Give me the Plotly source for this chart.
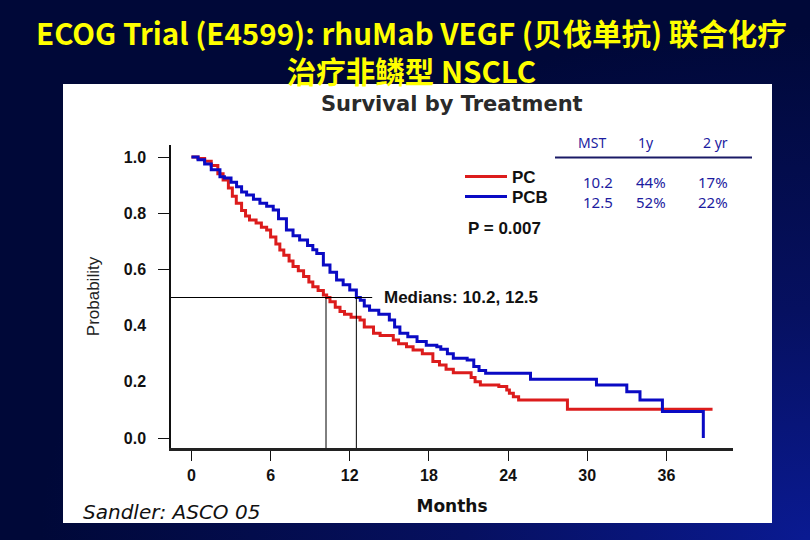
import base64
import plotly.graph_objects as go

# ---------------- data ----------------
pc_months = [0, 0.5, 1.0, 1.5, 2.0, 2.4, 2.8, 3.1, 3.4, 3.8, 4.1, 4.4, 4.9, 5.3, 5.7, 6.0, 6.4,
             6.7, 7.0, 7.4, 7.7, 8.1, 8.5, 8.9, 9.2, 9.6, 10.0, 10.25, 10.5, 10.9, 11.26, 11.6,
             12.1, 12.78, 13.1, 13.8, 14.3, 15.3, 15.7, 16.3, 16.8, 17.5, 18.3, 18.8, 19.3,
             19.85, 21.2, 21.5, 21.9, 23.3, 23.9, 24.1, 24.4, 24.8, 28.5, 39.5]
pc_surv = [1.0, 0.995, 0.985, 0.97, 0.94, 0.918, 0.89, 0.86, 0.835, 0.81, 0.79, 0.776, 0.765,
           0.75, 0.74, 0.715, 0.69, 0.669, 0.65, 0.63, 0.61, 0.595, 0.575, 0.555, 0.538, 0.525,
           0.509, 0.50, 0.485, 0.465, 0.45, 0.44, 0.43, 0.42, 0.395, 0.373, 0.365, 0.349, 0.335,
           0.325, 0.313, 0.30, 0.272, 0.26, 0.245, 0.232, 0.215, 0.20, 0.189, 0.183, 0.171,
           0.159, 0.147, 0.135, 0.102, 0.102]

pcb_months = [0, 0.5, 1.0, 1.5, 2.16, 2.5, 3.0, 3.42, 3.8, 4.18, 4.7, 5.19, 5.7, 6.2, 6.6, 7.2,
              7.7, 8.2, 8.8, 9.2, 9.5, 10.0, 10.5, 11.0, 11.5, 12.0, 12.5, 12.8, 13.1, 13.5,
              14.2, 15.0, 15.4, 15.8, 16.4, 17.1, 17.8, 18.6, 18.9, 19.4, 19.85, 20.9, 21.4,
              21.8, 22.3, 25.7, 30.7, 33.0, 34.0, 35.7, 38.8]
pcb_surv = [1.0, 0.99, 0.975, 0.955, 0.93, 0.925, 0.91, 0.894, 0.875, 0.865, 0.85, 0.835, 0.825,
            0.811, 0.78, 0.74, 0.72, 0.705, 0.685, 0.67, 0.657, 0.616, 0.59, 0.562, 0.545, 0.527,
            0.50, 0.49, 0.47, 0.455, 0.44, 0.42, 0.395, 0.373, 0.36, 0.343, 0.33, 0.325, 0.316,
            0.30, 0.284, 0.278, 0.254, 0.24, 0.23, 0.209, 0.189, 0.165, 0.135, 0.094, 0.0]

medians = [10.2, 12.5]
median_level = 0.5
median_line_end = 13.7

x_ticks = [0, 6, 12, 18, 24, 30, 36]
y_label_ticks = [0.0, 0.2, 0.4, 0.6, 0.8, 1.0]
y_mark_ticks = [0.0, 0.6, 0.8, 1.0]

table_header = ["MST", "1y", "2 yr"]
table_pc = ["10.2", "44%", "17%"]
table_pcb = ["12.5", "52%", "22%"]
p_value_text = "P = 0.007"

x_range = [-1.55, 41.05]
y_range = [-0.0356, 1.0427]

W, H = 810, 540
RED = "#dc1c1c"
BLUE = "#0a0ac4"
TBL = "#1c1ca0"


def px(x):
    return x / W


def py(y):
    return 1 - y / H


# ---------------- background gradient ----------------
svg = f'''<svg xmlns="http://www.w3.org/2000/svg" width="{W}" height="{H}">
<defs><radialGradient id="g" cx="100%" cy="100%" r="95%" gradientUnits="objectBoundingBox">
<stop offset="0" stop-color="#0a1a92"/><stop offset="0.45" stop-color="#061060"/>
<stop offset="1" stop-color="#000838"/></radialGradient></defs>
<rect width="{W}" height="{H}" fill="url(#g)"/></svg>'''
bg_uri = "data:image/svg+xml;base64," + base64.b64encode(svg.encode()).decode()

fig = go.Figure()

# median reference lines
mx, my = [x_range[0], median_line_end, None], [median_level, median_level, None]
for m in medians:
    mx += [m, m, None]
    my += [median_level, y_range[0], None]
fig.add_trace(go.Scatter(x=mx, y=my, mode="lines", line=dict(color="black", width=1),
                         showlegend=False, hoverinfo="skip", yaxis="y2"))

fig.add_trace(go.Scatter(x=pc_months, y=pc_surv, mode="lines", name="PC", legend="legend",
                         line=dict(color=RED, width=3, shape="hv")))
fig.add_trace(go.Scatter(x=pcb_months, y=pcb_surv, mode="lines", name="PCB", legend="legend2",
                         line=dict(color=BLUE, width=3, shape="hv")))

dom_x = [px(171), px(733)]
dom_y = [py(448), py(145)]
tickfont = dict(family="Liberation Sans, Arial, sans-serif", size=16, color="#111", weight="bold")
leg_font = dict(family="Liberation Sans, Arial", size=17, color="#111", weight="bold")

fig.update_layout(
    width=W, height=H,
    margin=dict(l=0, r=0, t=0, b=0),
    paper_bgcolor="#000838",
    plot_bgcolor="white",
    images=[dict(source=bg_uri, xref="paper", yref="paper", x=0, y=1, sizex=1, sizey=1,
                 xanchor="left", yanchor="top", sizing="stretch", layer="below")],
    shapes=[dict(type="rect", xref="paper", yref="paper", x0=px(63), x1=px(772),
                 y0=py(523), y1=py(84), fillcolor="white", line=dict(width=0), layer="below"),
            dict(type="line", xref="paper", yref="paper", x0=px(555), x1=px(752),
                 y0=py(157.5), y1=py(157.5), line=dict(color="#1a1a66", width=2))],
    xaxis=dict(domain=dom_x, range=x_range, tickvals=x_ticks, ticks="outside", ticklen=10,
               tickwidth=1, tickcolor="#111", showline=True, linecolor="#222", linewidth=2.5,
               showgrid=False, zeroline=False, tickfont=tickfont, ticklabelstandoff=1,
               title=dict(text="<b>Months</b>", font=dict(family="DejaVu Sans, sans-serif", size=17,
                                                          color="#111"), standoff=18)),
    yaxis=dict(domain=dom_y, range=y_range, tickvals=y_label_ticks, ticktext=[f"{v:.1f}" for v in y_label_ticks],
               ticks="outside", ticklen=12, tickcolor="rgba(0,0,0,0)", showline=True,
               linecolor="#111", linewidth=1.5, showgrid=False, zeroline=False, tickfont=tickfont,
               ticklabelstandoff=8,
               title=dict(text="Probability", font=dict(family="Liberation Sans, Arial", size=17,
                                                        color="#222"), standoff=20)),
    yaxis2=dict(domain=dom_y, range=y_range, overlaying="y", anchor="x", side="left",
                tickvals=y_mark_ticks, ticks="outside", ticklen=12, tickcolor="#111",
                showticklabels=False, showgrid=False, zeroline=False, showline=False),
    legend=dict(x=px(460), y=py(177), xanchor="left", yanchor="middle", bgcolor="rgba(0,0,0,0)",
                font=leg_font, itemwidth=42),
    legend2=dict(x=px(460), y=py(197), xanchor="left", yanchor="middle", bgcolor="rgba(0,0,0,0)",
                 font=leg_font, itemwidth=42),
    showlegend=True,
)

ann = []
title_font = dict(family="Noto Sans CJK SC, sans-serif", size=29.5, color="#ffff00", weight="bold")
ann.append(dict(text="ECOG Trial (E4599): rhuMab VEGF (贝伐单抗) 联合化疗<br>治疗非鳞型 NSCLC",
                x=px(411), y=py(51.5), font=title_font))
ann.append(dict(text="<b>Survival by Treatment</b>", x=px(452), y=py(104),
                font=dict(family="DejaVu Sans, sans-serif", size=21, color="#2a2a2a")))

tbl_font = dict(family="Noto Sans, sans-serif", size=15, color=TBL)
for txt, cx in zip(table_header, [592, 646, 715]):
    ann.append(dict(text=txt, x=px(cx), y=py(142), font=dict(tbl_font, size=14)))
for a_txt, b_txt, cx in zip(table_pc, table_pcb, [597.5, 651, 712.5]):
    ann.append(dict(text=f"{a_txt}<br>{b_txt}", x=px(cx), y=py(191.5), font=tbl_font))

ann.append(dict(text=f"<b>{p_value_text}</b>", x=px(466), y=py(228), xanchor="left",
                font=dict(family="Liberation Sans, Arial", size=17, color="#111")))
ann.append(dict(text="<b>Medians: " + ", ".join(f"{m:.1f}" for m in medians) + "</b>",
                x=px(382), y=py(297), xanchor="left",
                font=dict(family="Liberation Sans, Arial", size=17, color="#111")))
ann.append(dict(text="<i>Sandler: ASCO 05</i>", x=px(81), y=py(512), xanchor="left",
                font=dict(family="DejaVu Sans, sans-serif", size=20, color="#111")))

for a in ann:
    a.update(xref="paper", yref="paper", showarrow=False)
    a.setdefault("xanchor", "center")
    a.setdefault("yanchor", "middle")
fig.update_layout(annotations=ann)

fig.write_html("out.html", config={"displayModeBar": False},
               post_script="document.body.style.margin='0';")
